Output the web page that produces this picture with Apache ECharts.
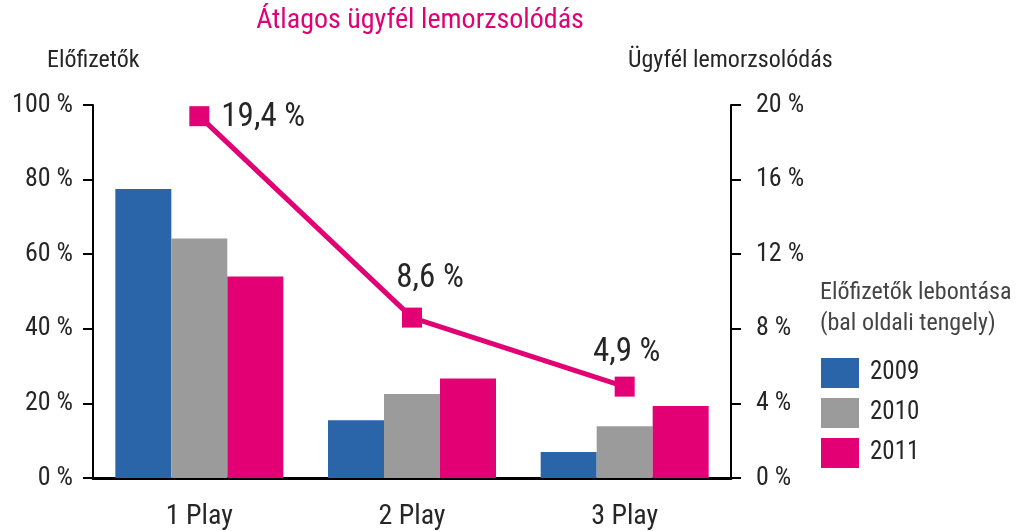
<!DOCTYPE html>
<html>
<head>
<meta charset="utf-8">
<script src="https://cdn.jsdelivr.net/npm/echarts@6/dist/echarts.min.js"></script>
<style>
  html, body { margin: 0; padding: 0; background: #fff; }
  #chart { width: 1016px; height: 531px; }
</style>
</head>
<body>
<div id="chart"></div>
<script>
// kategóriák és adatok
const categories = ['1 Play', '2 Play', '3 Play']
const years = ['2009', '2010', '2011']
const subs2009 = [77.5, 15.5, 7.0]
const subs2010 = [64.2, 22.5, 13.9]
const subs2011 = [54.0, 26.7, 19.3]
const churn = [19.4, 8.6, 4.9]

const font = '"Liberation Sans Narrow", "Roboto Condensed", Roboto, sans-serif'
const textColor = '#262626'
const colors = ['#2965a8', '#9b9b9b', '#e20074']

const chart = echarts.init(document.getElementById('chart'))

const barSeries = [subs2009, subs2010, subs2011].map((data, i) => ({
  name: years[i],
  type: 'bar',
  yAxisIndex: 0,
  data: data,
  barWidth: 56,
  barGap: '0%',
  itemStyle: { color: colors[i] }
}))

// címkék elhelyezése a vonalon
const labelPos = [
  { position: 'right', distance: 12, offset: [0, 2] },
  { position: 'top', distance: 12, offset: [18, 0] },
  { position: 'top', distance: 7, offset: [2, 0] }
]

const option = {
  animation: false,
  textStyle: { fontFamily: font, color: textColor },
  title: [
    {
      text: 'Átlagos ügyfél lemorzsolódás',
      left: 420, top: 7, textAlign: 'center', padding: 0,
      textStyle: { color: '#e20074', fontSize: 28, fontWeight: 'normal', fontFamily: font }
    },
    {
      text: 'Előfizetők',
      left: 47, top: 49, padding: 0,
      textStyle: { color: textColor, fontSize: 24, fontWeight: 'normal', fontFamily: font }
    },
    {
      text: 'Ügyfél lemorzsolódás',
      left: 628, top: 49, padding: 0,
      textStyle: { color: textColor, fontSize: 24, fontWeight: 'normal', fontFamily: font }
    },
    {
      text: 'Előfizetők lebontása\n(bal oldali tengely)',
      left: 820, top: 277, padding: 0,
      textStyle: { color: '#444', fontSize: 24, lineHeight: 31, fontWeight: 'normal', fontFamily: font }
    }
  ],
  legend: {
    data: years,
    orient: 'vertical',
    left: 821, top: 358, padding: 0,
    itemWidth: 38, itemHeight: 30, itemGap: 10,
    icon: 'rect',
    textStyle: { fontSize: 25, color: textColor, fontFamily: font, padding: [0, 0, 0, 6] }
  },
  grid: { left: 93, right: 285, top: 105, bottom: 52 },
  xAxis: {
    type: 'category',
    data: categories,
    axisLine: { lineStyle: { color: '#000', width: 3 } },
    axisTick: { show: false },
    axisLabel: { fontSize: 28, color: textColor, margin: 25, fontFamily: font }
  },
  yAxis: [
    {
      type: 'value', min: 0, max: 100, interval: 20,
      axisLine: { show: true, lineStyle: { color: '#000', width: 2 } },
      axisTick: { show: true, length: 10, lineStyle: { color: '#000', width: 2 } },
      splitLine: { show: false },
      axisLabel: { formatter: '{value} %', fontSize: 26, color: textColor, margin: 20, fontFamily: font }
    },
    {
      type: 'value', min: 0, max: 20, interval: 4,
      axisLine: { show: true, lineStyle: { color: '#000', width: 2 } },
      axisTick: { show: true, length: 10, lineStyle: { color: '#000', width: 2 } },
      splitLine: { show: false },
      axisLabel: { formatter: '{value} %', fontSize: 26, color: textColor, margin: 25, fontFamily: font }
    }
  ],
  series: barSeries.concat([
    {
      name: 'Lemorzsolódás',
      type: 'line',
      yAxisIndex: 1,
      data: churn.map((v, i) => ({ value: v, label: labelPos[i] })),
      symbol: 'rect',
      symbolSize: 20,
      lineStyle: { color: '#e20074', width: 5 },
      itemStyle: { color: '#e20074' },
      label: {
        show: true,
        formatter: p => String(p.value).replace('.', ',') + ' %',
        fontSize: 33, color: textColor, fontFamily: font
      },
      z: 5
    }
  ])
}

chart.setOption(option)
</script>
</body>
</html>
